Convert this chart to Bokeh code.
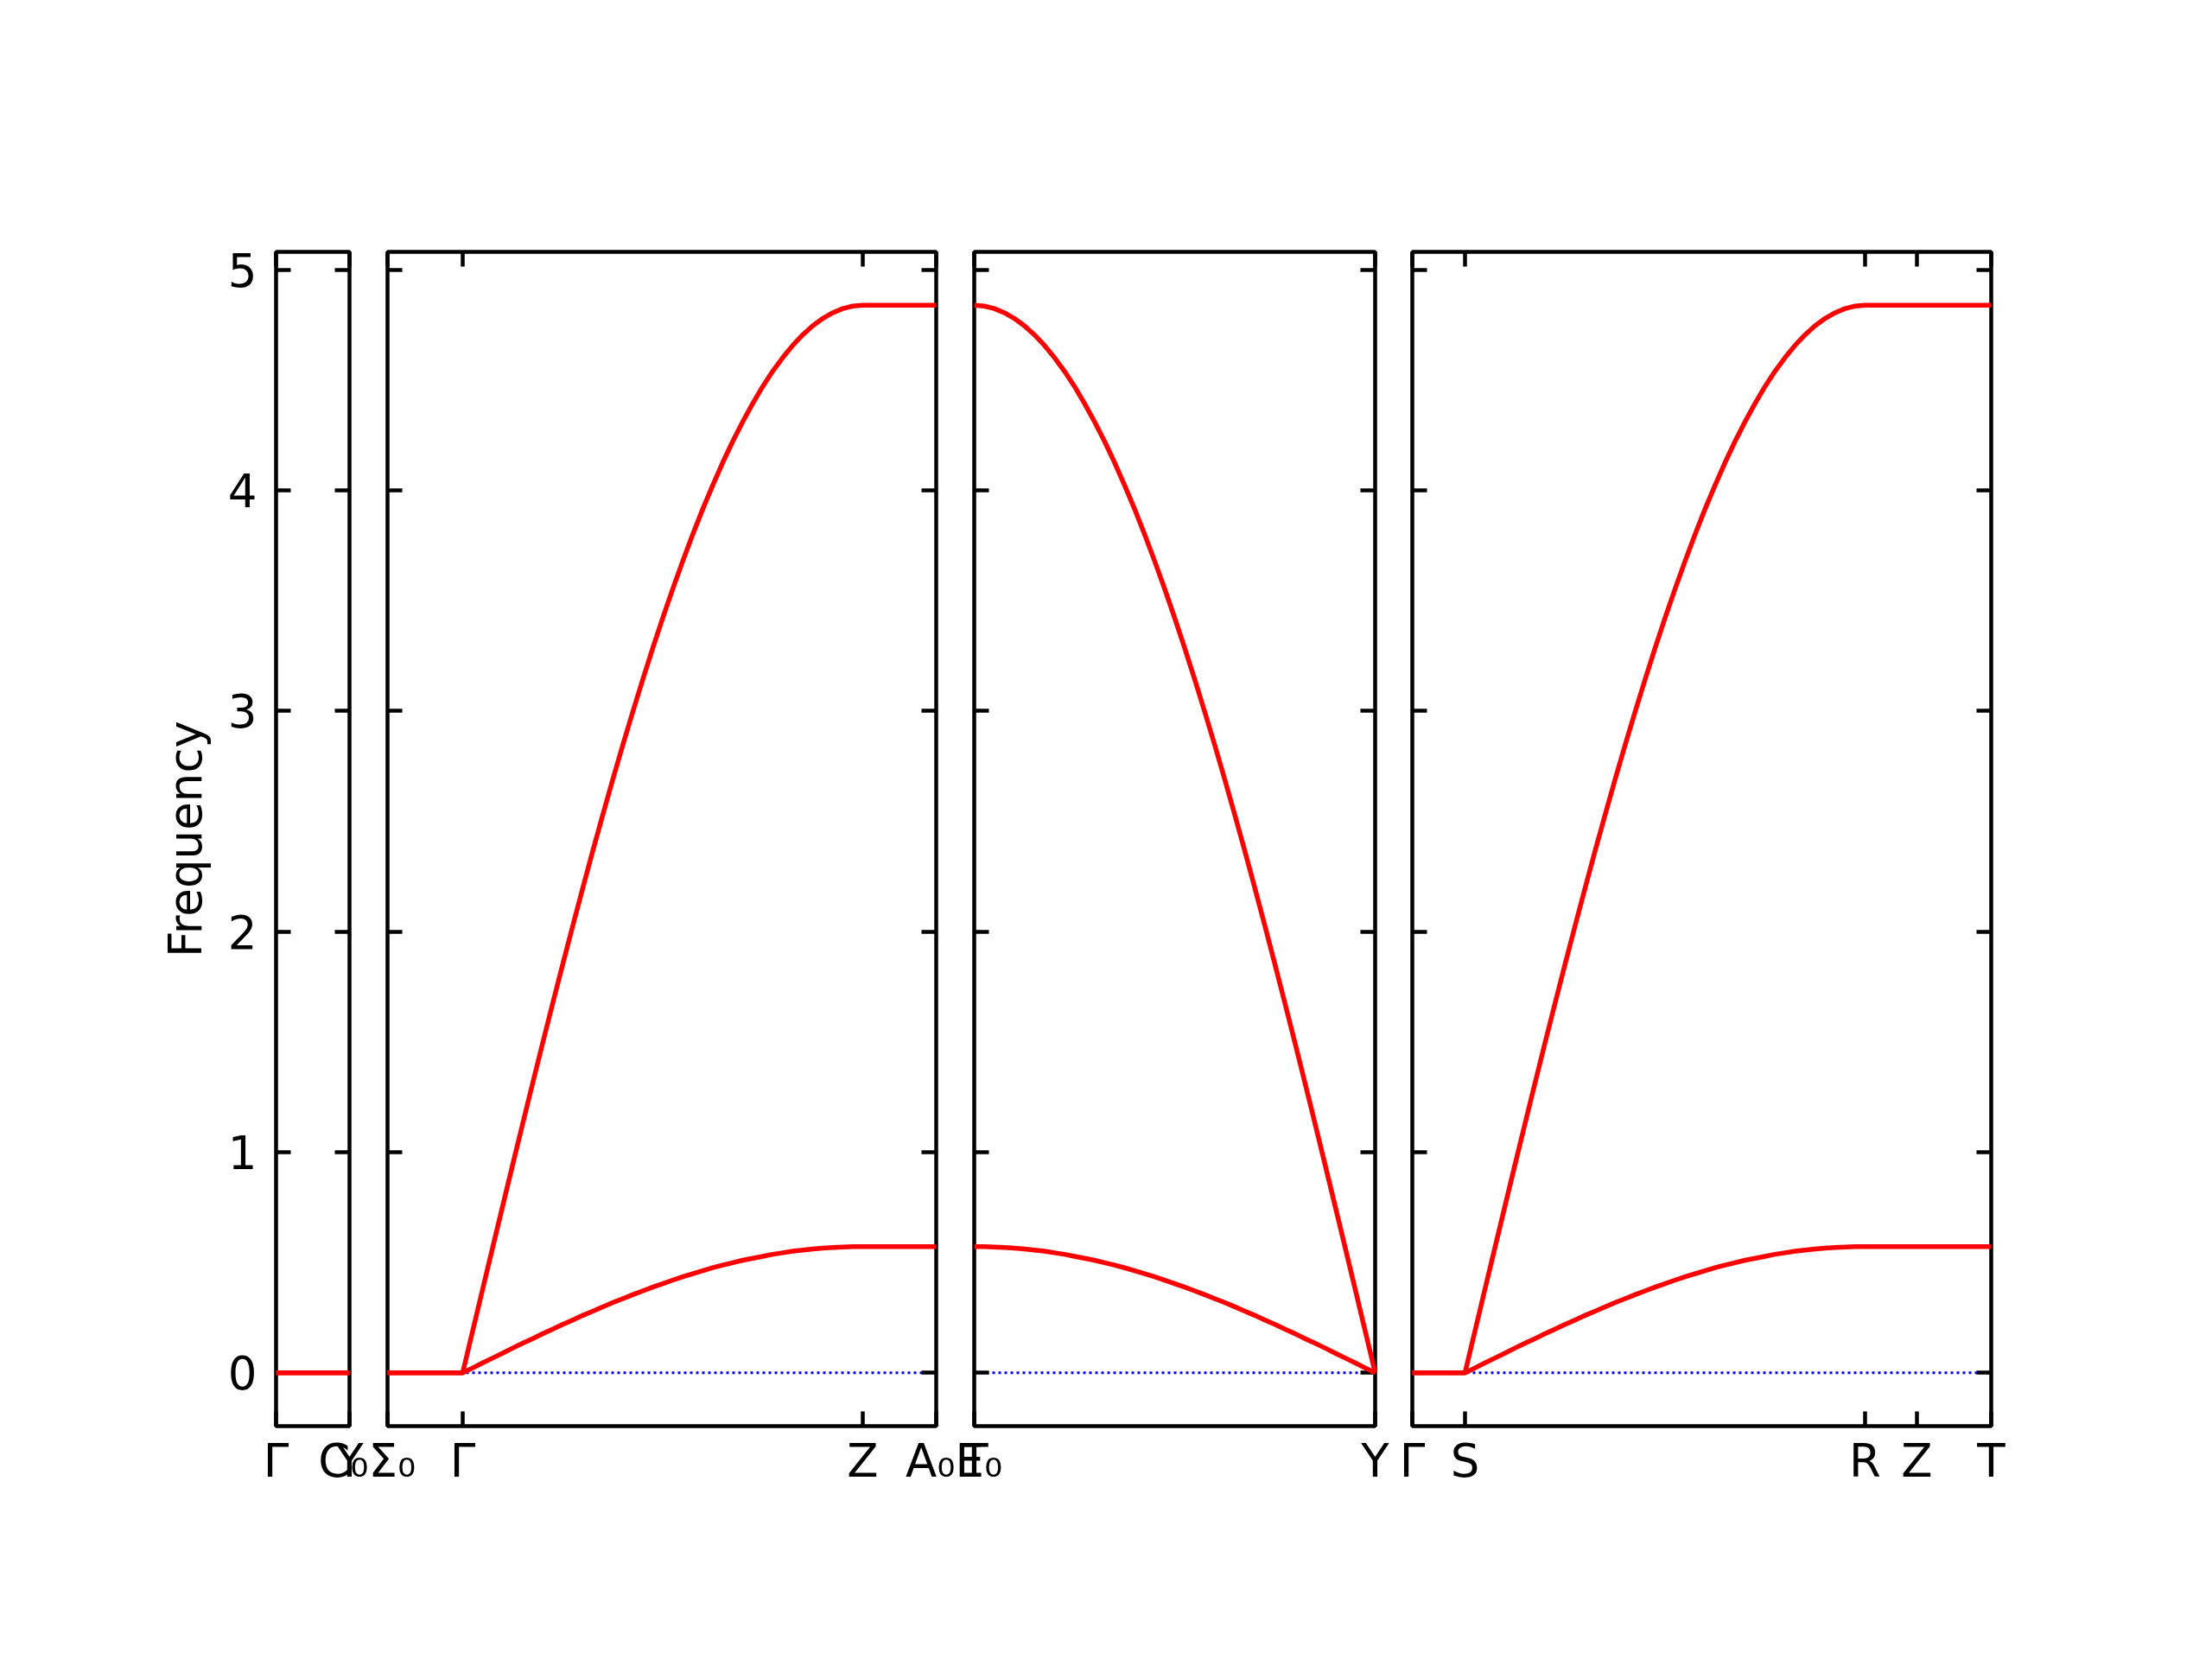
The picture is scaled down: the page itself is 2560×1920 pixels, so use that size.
from bokeh.plotting import figure
from bokeh.layouts import row
from bokeh.models import Range1d, FixedTicker, LinearAxis, CustomJSTickFormatter
from bokeh.embed import file_html
from bokeh.resources import INLINE

FONT = "DejaVu Sans"
FS = "53px"

# ---- path ticks (distance along path) and labels, one list per panel ----
p1_ticks = [0.0, 0.085, 0.085]
p1_labels = ["Γ", "Y", "C₀"]
p2_ticks = [0.0, 0.087, 0.550, 0.635]
p2_labels = ["Σ₀", "Γ", "Z", "A₀"]
p3_ticks = [0.0, 0.0, 0.464]
p3_labels = ["E₀", "T", "Y"]
p4_ticks = [0.0, 0.061, 0.524, 0.584, 0.670]
p4_labels = ["Γ", "S", "R", "Z", "T"]

y_ticks = [0, 1, 2, 3, 4, 5]

# ---- band values read along a kz segment (Γ -> Z direction), fraction of segment ----
kz_frac = [0.000, 0.025, 0.050, 0.075, 0.100, 0.125, 0.150, 0.175, 0.200, 0.225,
           0.250, 0.275, 0.300, 0.325, 0.350, 0.375, 0.400, 0.425, 0.450, 0.475,
           0.500, 0.525, 0.550, 0.575, 0.600, 0.625, 0.650, 0.675, 0.700, 0.725,
           0.750, 0.775, 0.800, 0.825, 0.850, 0.875, 0.900, 0.925, 0.950, 0.975,
           1.000]
band_upper = [0.000, 0.190, 0.380, 0.569, 0.757, 0.944, 1.130, 1.314, 1.496, 1.675,
              1.852, 2.026, 2.197, 2.365, 2.529, 2.689, 2.845, 2.996, 3.143, 3.285,
              3.422, 3.554, 3.680, 3.801, 3.916, 4.024, 4.127, 4.223, 4.312, 4.395,
              4.472, 4.541, 4.603, 4.658, 4.706, 4.747, 4.780, 4.806, 4.825, 4.836,
              4.840]
band_lower = [0.000, 0.022, 0.045, 0.067, 0.089, 0.112, 0.134, 0.155, 0.177, 0.198,
              0.219, 0.239, 0.260, 0.279, 0.299, 0.318, 0.336, 0.354, 0.371, 0.388,
              0.404, 0.420, 0.435, 0.449, 0.463, 0.476, 0.488, 0.499, 0.510, 0.519,
              0.528, 0.537, 0.544, 0.551, 0.556, 0.561, 0.565, 0.568, 0.570, 0.572,
              0.572]
upper_top = 4.840
lower_top = 0.572

Y_RANGE = (-0.242, 5.082)
H = 1900
TOP = 291
BOTTOM = 250
RED_W = 5.5
FRAME_W = 4.5
TICK_LEN = 17


def seg(x0, x1):
    return [x0 + f * (x1 - x0) for f in kz_frac]


def make_panel(ticks, labels, width, bl, br, segments, show_y):
    p = figure(width=width, height=H, output_backend="svg", toolbar_location=None,
               x_range=Range1d(ticks[0], ticks[-1]), y_range=Range1d(*Y_RANGE),
               min_border_left=bl, min_border_right=br, min_border_top=TOP,
               min_border_bottom=BOTTOM, background_fill_color="white",
               border_fill_color="white")
    p.grid.visible = False
    p.outline_line_color = "black"
    p.outline_line_width = FRAME_W
    p.outline_line_alpha = 1.0

    # zero reference (blue dotted), drawn under the bands
    p.line([ticks[0], ticks[-1]], [0, 0], line_color="#0000ff", line_width=3,
           line_dash="3 4")
    for xs, ys in segments:
        r = p.line(xs, ys, line_color="#ff0000", line_width=RED_W,
                   line_join="round")
        r.level = "annotation"

    empty = CustomJSTickFormatter(code="return '';")

    # bottom x axis with labels
    xa = p.xaxis[0]
    xa.ticker = FixedTicker(ticks=ticks)
    xa.formatter = CustomJSTickFormatter(args=dict(labels=labels),
                                         code="return labels[index];")
    xa.major_tick_in = TICK_LEN
    xa.major_tick_out = 0
    xa.major_tick_line_width = FRAME_W
    xa.minor_tick_line_color = None
    xa.axis_line_color = None
    xa.major_label_standoff = 9
    xa.major_label_text_font = FONT
    xa.major_label_text_font_size = FS
    xa.major_label_text_color = "black"

    # top axis (ticks only)
    ta = LinearAxis(ticker=FixedTicker(ticks=ticks), formatter=empty,
                    major_tick_in=TICK_LEN, major_tick_out=0,
                    major_tick_line_width=FRAME_W,
                    minor_tick_line_color=None, axis_line_color=None,
                    major_label_standoff=0, major_label_text_font_size="1px")
    p.add_layout(ta, "above")

    ya = p.yaxis[0]
    ya.ticker = FixedTicker(ticks=y_ticks)
    ya.major_tick_in = TICK_LEN
    ya.major_tick_out = 0
    ya.major_tick_line_width = FRAME_W
    ya.minor_tick_line_color = None
    ya.axis_line_color = None
    if show_y:
        ya.major_label_standoff = 22
        ya.major_label_text_font = FONT
        ya.major_label_text_font_size = FS
        ya.major_label_text_color = "black"
        ya.axis_label = "Frequency"
        ya.axis_label_text_font = FONT
        ya.axis_label_text_font_size = FS
        ya.axis_label_text_font_style = "normal"
        ya.axis_label_text_color = "black"
        ya.axis_label_standoff = 16
    else:
        ya.formatter = empty
        ya.major_label_standoff = 0
        ya.major_label_text_font_size = "1px"

    ra = LinearAxis(ticker=FixedTicker(ticks=y_ticks), formatter=empty,
                    major_tick_in=TICK_LEN, major_tick_out=0,
                    major_tick_line_width=FRAME_W,
                    minor_tick_line_color=None, axis_line_color=None,
                    major_label_standoff=0, major_label_text_font_size="1px")
    p.add_layout(ra, "right")
    return p


# panel 1: Γ–Y–C0 (all zero)
seg1 = [([p1_ticks[0], p1_ticks[-1]], [0, 0]),
        ([p1_ticks[0], p1_ticks[-1]], [0, 0])]

# panel 2: Σ0–Γ–Z–A0
x2 = [p2_ticks[0]] + seg(p2_ticks[1], p2_ticks[2]) + [p2_ticks[3]]
seg2 = [(x2, [0] + band_upper + [upper_top]),
        (x2, [0] + band_lower + [lower_top])]

# panel 3: E0|T–Y (reverse of Γ–Z)
x3 = seg(p3_ticks[1], p3_ticks[2])
seg3 = [(x3, band_upper[::-1]), (x3, band_lower[::-1])]

# panel 4: Γ–S–R–Z–T
x4 = [p4_ticks[0]] + seg(p4_ticks[1], p4_ticks[2]) + [p4_ticks[3], p4_ticks[4]]
seg4 = [(x4, [0] + band_upper + [upper_top, upper_top]),
        (x4, [0] + band_lower + [lower_top, lower_top])]

f1 = make_panel(p1_ticks, p1_labels, 426, 319, 22, seg1, True)
f2 = make_panel(p2_ticks, p2_labels, 679, 22, 22, seg2, False)
f3 = make_panel(p3_ticks, p3_labels, 507, 22, 21, seg3, False)
f4 = make_panel(p4_ticks, p4_labels, 924, 22, 232, seg4, False)

layout = row(f1, f2, f3, f4, spacing=0)

with open("out.html", "w") as fh:
    fh.write(file_html(layout, INLINE))
